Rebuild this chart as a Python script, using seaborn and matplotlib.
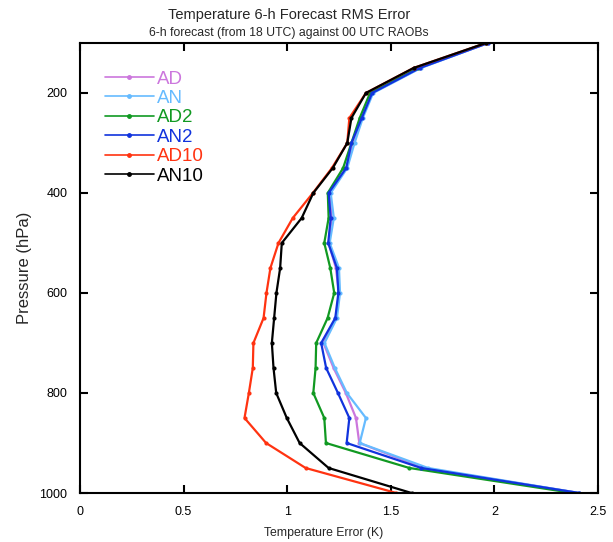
import numpy as np
import pandas as pd
import matplotlib
matplotlib.use("Agg")
import matplotlib.pyplot as plt
import seaborn as sns
from matplotlib.lines import Line2D

levels = [100, 150, 200, 250, 300, 350, 400, 450, 500, 550, 600, 650, 700, 750, 800, 850, 900, 950, 1000]

AD   = [1.97, 1.64, 1.41, 1.36, 1.32, 1.285, 1.205, 1.215, 1.20, 1.235, 1.25, 1.235, 1.175, 1.224, 1.283, 1.332, 1.348, 1.66, 2.41]
AN   = [1.97, 1.645, 1.415, 1.365, 1.325, 1.29, 1.21, 1.225, 1.205, 1.25, 1.255, 1.24, 1.18, 1.23, 1.288, 1.38, 1.35, 1.68, 2.41]
AD2  = [1.96, 1.63, 1.40, 1.35, 1.31, 1.27, 1.196, 1.20, 1.179, 1.208, 1.227, 1.195, 1.14, 1.137, 1.126, 1.179, 1.187, 1.59, 2.38]
AN2  = [1.97, 1.64, 1.41, 1.36, 1.31, 1.285, 1.20, 1.21, 1.198, 1.24, 1.247, 1.232, 1.164, 1.188, 1.245, 1.30, 1.287, 1.647, 2.41]
AD10 = [1.96, 1.61, 1.38, 1.30, 1.29, 1.216, 1.124, 1.027, 0.958, 0.919, 0.90, 0.886, 0.837, 0.834, 0.815, 0.794, 0.898, 1.089, 1.527]
AN10 = [1.96, 1.61, 1.38, 1.31, 1.29, 1.22, 1.126, 1.07, 0.974, 0.966, 0.948, 0.937, 0.926, 0.934, 0.947, 0.998, 1.06, 1.20, 1.60]

series_names = ["AD", "AN", "AD2", "AN2", "AD10", "AN10"]
series_vals = [AD, AN, AD2, AN2, AD10, AN10]
colors = ["#cc77dd", "#66bbff", "#119922", "#1133dd", "#ff3311", "#000000"]

xticks = [0, 0.5, 1, 1.5, 2, 2.5]
xticklabels = ["0", "0.5", "1", "1.5", "2", "2.5"]
yticks = [200, 400, 600, 800, 1000]

rows = []
for name, vals in zip(series_names, series_vals):
    for p, v in zip(levels, vals):
        rows.append({"series": name, "pressure": p, "error": v})
df = pd.DataFrame(rows)

sns.set_style("ticks")
plt.rcParams["font.family"] = ["Liberation Sans", "DejaVu Sans"]

fig = plt.figure(figsize=(6.13, 5.42), dpi=100)
ax = fig.add_axes([0.1305, 0.0904, 0.845, 0.8303])

palette = dict(zip(series_names, colors))
sns.lineplot(data=df, x="error", y="pressure", hue="series", hue_order=series_names,
             palette=palette, sort=False, estimator=None, marker="o", markersize=3,
             markeredgewidth=0, linewidth=1.6, legend=False, ax=ax)

ax.set_xlim(0, 2.5)
ax.set_ylim(1000, 100)
ax.set_xticks(xticks)
ax.set_xticklabels(xticklabels)
ax.set_yticks(yticks)
ax.tick_params(direction="in", top=True, right=True, length=6, width=1.5,
               labelsize=9, pad=9, colors="black")
for s in ax.spines.values():
    s.set_linewidth(1.5)
    s.set_color("black")

ax.set_xlabel("Temperature Error (K)", fontsize=8.8)
ax.xaxis.set_label_coords(0.47, -0.076)
ax.set_ylabel("Pressure (hPa)", fontsize=12)
ax.yaxis.set_label_coords(-0.093, 0.5)

handles = [Line2D([0], [0], color=c, lw=1.2, marker="o", markersize=2.5) for c in colors]
leg = ax.legend(handles, series_names, loc="upper left", bbox_to_anchor=(0.023, 0.968),
                frameon=False, handlelength=2.6, handletextpad=0.15, labelspacing=0.12,
                fontsize=13.5, labelcolor=colors, borderpad=0.2)

fig.text(0.471, 0.972, "Temperature 6-h Forecast RMS Error", ha="center", va="center", fontsize=10.5)
fig.text(0.471, 0.94, "6-h forecast (from 18 UTC) against 00 UTC RAOBs", ha="center", va="center", fontsize=8.85)

fig.savefig("out.png", dpi=100)
